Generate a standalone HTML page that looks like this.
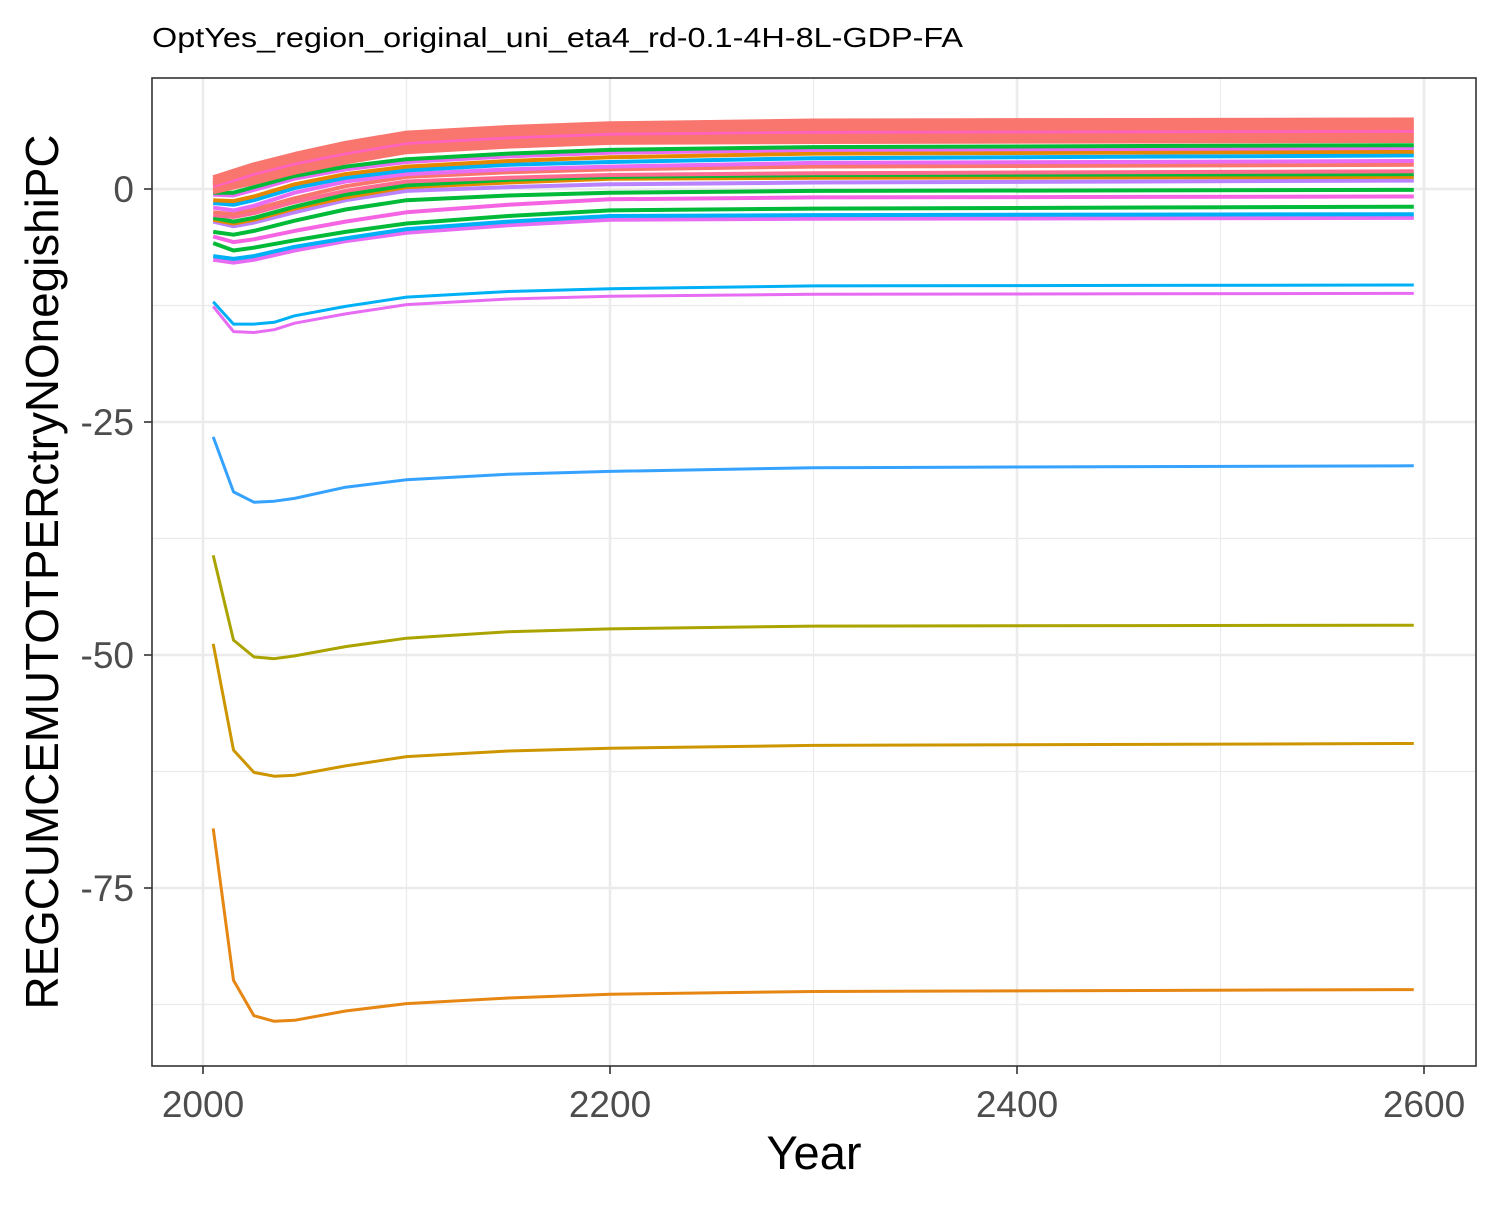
<!DOCTYPE html>
<html><head><meta charset="utf-8"><style>
body{margin:0;background:#fff;}
svg text{font-family:"Liberation Sans",Arial,sans-serif;}
</style></head><body>
<svg id="chart" width="1500" height="1200" xmlns="http://www.w3.org/2000/svg">
<rect x="0" y="0" width="1500" height="1200" fill="#fff"/>
<text x="152" y="47" font-size="28" textLength="811" lengthAdjust="spacingAndGlyphs" fill="#000">OptYes_region_original_uni_eta4_rd-0.1-4H-8L-GDP-FA</text>
<g id="grid"></g>
<g id="series"></g>
<rect x="152" y="78" width="1324" height="988" fill="none" stroke="#333" stroke-width="1.6"/>
<g id="axes"></g>
<text x="814" y="1169" font-size="47" text-anchor="middle" fill="#000">Year</text>
<text transform="translate(58,572) rotate(-90)" font-size="46" text-anchor="middle" textLength="875" lengthAdjust="spacingAndGlyphs" fill="#000">REGCUMCEMUTOTPERctryNOnegishiPC</text>
</svg>
<script>
const xTicks=[2000,2200,2400,2600];
const xMinor=[2100,2300,2500];
const yTicks=[0,-25,-50,-75];
const yMinor=[-12.5,-37.5,-62.5,-87.5];
const yearsBig=[2005,2015,2025,2035,2045,2070,2100,2150,2200,2300,2595];
const yearsCluster=[2005,2015,2025,2045,2070,2100,2150,2200,2300,2595];
const bigColors=["#E68613","#CD9600","#ABA300","#35A2FF","#00B0F6","#E76BF3"];
const bigValues=[
[-68.6,-84.9,-88.7,-89.3,-89.2,-88.2,-87.4,-86.8,-86.4,-86.1,-85.9],
[-48.8,-60.2,-62.6,-63.0,-62.9,-61.9,-60.9,-60.3,-60.0,-59.7,-59.5],
[-39.3,-48.4,-50.2,-50.4,-50.1,-49.1,-48.2,-47.5,-47.2,-46.9,-46.8],
[-26.6,-32.5,-33.6,-33.5,-33.2,-32.0,-31.2,-30.6,-30.3,-29.9,-29.7],
[-12.1,-14.5,-14.5,-14.3,-13.6,-12.6,-11.6,-11.0,-10.7,-10.4,-10.3],
[-12.6,-15.3,-15.4,-15.1,-14.4,-13.4,-12.4,-11.8,-11.5,-11.3,-11.2]];
const clusterColors=["#E76BF3","#00B0F6","#00BA38","#F564E3","#00BA38","#B983FF","#E58700","#00BA38","#FF6C91","#F8766D","#E76BF3","#00B0F6","#E58700","#E76BF3","#00BA38","#F8766D","#F8766D","#F8766D","#FF62BC","#F8766D","#F8766D","#F8766D"];
const clusterValues=[
[-7.6,-7.9,-7.6,-6.6,-5.6,-4.7,-3.9,-3.3,-3.2,-3.1],
[-7.2,-7.5,-7.2,-6.2,-5.3,-4.3,-3.5,-2.9,-2.8,-2.7],
[-5.8,-6.6,-6.3,-5.5,-4.6,-3.7,-2.9,-2.3,-2.1,-1.9],
[-5.1,-5.7,-5.4,-4.5,-3.5,-2.5,-1.7,-1.1,-0.9,-0.8],
[-4.6,-4.9,-4.5,-3.4,-2.2,-1.2,-0.7,-0.4,-0.2,-0.1],
[-3.5,-4.0,-3.6,-2.5,-1.2,-0.2,0.2,0.5,0.7,0.9],
[-3.3,-3.7,-3.3,-2.1,-0.9,0.2,0.7,1.1,1.2,1.3],
[-3.1,-3.5,-3.1,-1.9,-0.6,0.4,1.0,1.3,1.5,1.6],
[-2.8,-3.0,-2.6,-1.4,-0.2,0.8,1.2,1.5,1.7,1.9],
[-2.5,-2.7,-2.2,-1.0,0.3,1.3,1.8,2.1,2.4,2.6],
[-2.0,-2.3,-1.8,-0.4,0.8,1.6,2.1,2.4,2.8,3.0],
[-1.5,-1.7,-1.2,0.1,1.2,2.0,2.6,2.9,3.3,3.6],
[-1.2,-1.3,-0.8,0.5,1.6,2.4,3.0,3.4,3.8,4.0],
[-0.6,-0.7,-0.1,1.1,2.1,2.9,3.5,3.9,4.2,4.4],
[-0.4,-0.4,0.2,1.4,2.4,3.2,3.8,4.2,4.5,4.7],
[-0.3,0.2,0.7,1.8,2.9,4.0,4.6,5.0,5.1,5.2],
[-0.1,0.4,1.0,2.1,3.2,4.3,5.0,5.3,5.5,5.6],
[0.2,0.8,1.4,2.5,3.6,4.7,5.3,5.7,5.9,6.0],
[0.4,1.0,1.7,2.8,3.9,5.0,5.6,6.0,6.2,6.3],
[0.6,1.3,2.0,3.1,4.2,5.3,5.9,6.3,6.5,6.6],
[0.9,1.6,2.3,3.4,4.6,5.6,6.3,6.6,6.9,7.0],
[1.2,1.9,2.6,3.7,4.9,6.0,6.6,7.0,7.3,7.4]];

const NS="http://www.w3.org/2000/svg";
function xs(v){return 203+(v-2000)*2.035;}
function ys(v){return 189-v*9.32;}
const grid=document.getElementById('grid'),axes=document.getElementById('axes'),ser=document.getElementById('series');
function line(p,x1,y1,x2,y2,c,w){const l=document.createElementNS(NS,'line');l.setAttribute('x1',x1);l.setAttribute('y1',y1);l.setAttribute('x2',x2);l.setAttribute('y2',y2);l.setAttribute('stroke',c);l.setAttribute('stroke-width',w);p.appendChild(l);return l;}
function txt(p,x,y,s,anchor){const t=document.createElementNS(NS,'text');t.setAttribute('x',x);t.setAttribute('y',y);t.setAttribute('font-size','37');t.setAttribute('fill','#4D4D4D');t.setAttribute('text-anchor',anchor);t.textContent=s;p.appendChild(t);return t;}
xMinor.forEach(v=>{const l=line(grid,xs(v),78,xs(v),1066,'#EBEBEB',1.2);

});
yMinor.forEach(v=>{const l=line(grid,152,ys(v),1476,ys(v),'#EBEBEB',1.2);

});
xTicks.forEach(v=>{const l=line(grid,xs(v),78,xs(v),1066,'#EBEBEB',2.6);


const tk=line(axes,xs(v),1066,xs(v),1074,'#333',1.6);


const t=txt(axes,xs(v),1117,String(v),'middle');

});
yTicks.forEach(v=>{const l=line(grid,152,ys(v),1476,ys(v),'#EBEBEB',2.6);


const tk=line(axes,144,ys(v),152,ys(v),'#333',1.6);


const t=txt(axes,134,ys(v)+13,String(v),'end');

});
function poly(years,vals,color,w,name){const p=document.createElementNS(NS,'polyline');
p.setAttribute('points',vals.map((v,i)=>xs(years[i]).toFixed(1)+','+ys(v).toFixed(1)).join(' '));
p.setAttribute('fill','none');p.setAttribute('stroke',color);p.setAttribute('stroke-width',w);p.setAttribute('stroke-linejoin','round');


ser.appendChild(p);}
bigValues.forEach((vals,i)=>poly(yearsBig,vals,bigColors[i],3,'series-line-'+(i+1)));
clusterValues.forEach((vals,i)=>poly(yearsCluster,vals,clusterColors[i],i>=15?5:4,'cluster-line-'+(i+1)));
</script>
</body></html>
